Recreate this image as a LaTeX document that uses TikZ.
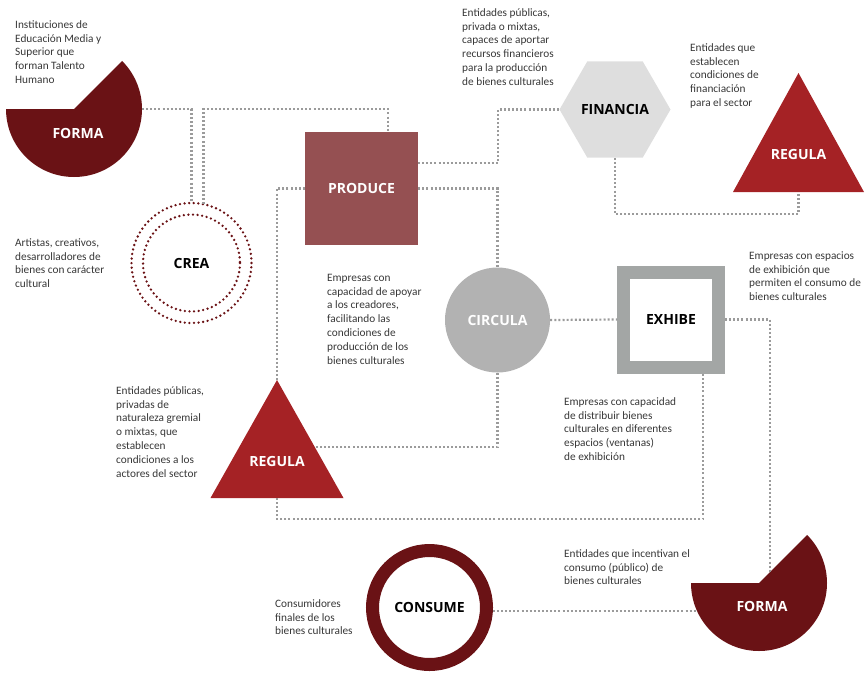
\documentclass[tikz,border=0pt]{standalone}
\usepackage{fontspec}
\setmainfont{Carlito}
\newfontfamily\labfont{Open Sans}
\usetikzlibrary{shapes.geometric}

\definecolor{wine}{RGB}{106,18,21}
\definecolor{prodred}{RGB}{149,80,82}
\definecolor{regred}{RGB}{165,34,37}
\definecolor{circgray}{RGB}{178,178,178}
\definecolor{exgray}{RGB}{163,166,165}
\definecolor{fingray}{RGB}{222,222,222}
\definecolor{linkgray}{RGB}{155,155,155}
\definecolor{notegray}{RGB}{55,55,55}

% strut fixing the height of the first line of every note
\newcommand\notestrut{\rule{0pt}{9pt}}

\begin{document}
\begin{tikzpicture}[x=1pt,y=-1pt,
  link/.style={draw=linkgray, line width=2.2pt, dash pattern=on 2pt off 2.1pt},
  lab/.style={font=\labfont\bfseries\fontsize{14}{16}\selectfont, inner sep=0pt},
  dots/.style={draw=wine, line width=2.6pt, line cap=round, dash pattern=on 0pt off 4.6pt},
  note/.style={anchor=north west, align=left, inner sep=0pt, text=notegray,
               font=\fontsize{11.3}{13.8}\selectfont}]
\useasboundingbox (0,0) rectangle (865,673);

% ---------- shapes ----------
% FORMA (upper left): circle sector
\coordinate (f1c) at (74,109);
\fill[wine] (f1c) -- ++(-68,0) arc[start angle=180, end angle=-45, radius=68] -- cycle;
\node[lab, text=white] (forma1) at (78,133) {FORMA};

% CREA: two dotted rings
\node[circle, dots, minimum size=120pt, lab] (crea) at (191.5,263) {CREA};
\draw[dots] (crea.center) circle[radius=48.5];

% PRODUCE
\node[fill=prodred, minimum size=113pt, lab, text=white] (produce) at (361.5,188.5) {PRODUCE};

% FINANCIA hexagon (flat top and bottom)
\node[regular polygon, regular polygon sides=6,
      minimum size=111pt, fill=fingray, lab] (financia) at (615,109.5) {FINANCIA};

% REGULA (upper right)
\coordinate (reg2Top) at (798.5,73);
\fill[regred] (reg2Top) -- (864,192) -- (733,192) -- cycle;
\node[lab, text=white] (regula2) at (798.5,154) {REGULA};
\coordinate (reg2Bot) at (798.5,192);

% CIRCULA
\node[circle, fill=circgray, minimum size=105pt, lab, text=white] (circula) at (497.5,320) {CIRCULA};

% EXHIBE
\node[draw=exgray, line width=13pt, fill=white, minimum size=95pt, lab] (exhibe) at (671,319.5) {EXHIBE};

% REGULA (left)
\coordinate (reg1Top) at (277,380);
\coordinate (reg1Bot) at (277,498);
\fill[regred] (reg1Top) -- (343.5,498) -- (210.5,498) -- cycle;
\node[lab, text=white] (regula1) at (277,461) {REGULA};

% CONSUME ring
\node[circle, draw=wine, line width=13pt, minimum size=114pt, fill=white, lab] (consume) at (429.5,607.5) {CONSUME};

% FORMA (lower right): circle sector
\coordinate (f2c) at (759,583);
\fill[wine] (f2c) -- ++(-68,0) arc[start angle=180, end angle=-45, radius=68] -- cycle;
\node[lab, text=white] (forma2) at (762,606) {FORMA};

% ---------- connector end points ----------
\coordinate (f1r) at (142,109);
\coordinate (creaTop2) at (203.5,204);
\coordinate (prodTop) at (388,132);
\coordinate (prodR1) at (418,163);
\coordinate (f2edge) at (770,572);
\coordinate (exB) at (703,374);
\coordinate (reg1R) at (314,447);
\coordinate (consR) at (492.8,611);
\coordinate (f2arc) at (697,611);

% ---------- connectors ----------
\draw[link] (f1r) -| (crea.north);
\draw[link] (creaTop2) -- ++(0,-95) -| (prodTop);
\draw[link] (prodR1) -- ++(80,0) |- (financia.west);
\draw[link] (produce.east) -| (circula.north);
\draw[link] (produce.west) -| (reg1Top);
\draw[link] (financia.south) -- ++(0,56.5) -| (reg2Bot);
\draw[link] (circula.east) -- (exhibe.west);
\draw[link] (exhibe.east) -| (f2edge);
\draw[link] (exB) -- ++(0,145) -| (reg1Bot);
\draw[link] (circula.south) |- (reg1R);
\draw[link] (consR) -- (f2arc);

% ---------- notes ----------
\node[note] (n1) at (15,19) {\notestrut Instituciones de\\Educación Media y\\Superior que\\forman Talento\\Humano};
\node[note] (n2) at (15,237) {\notestrut Artistas, creativos,\\desarrolladores de\\bienes con carácter\\cultural};
\node[note] (n3) at (327,272) {\notestrut Empresas con\\capacidad de apoyar\\a los creadores,\\facilitando las\\condiciones de\\producción de los\\bienes culturales};
\node[note] (n4) at (462,7) {\notestrut Entidades públicas,\\privada o mixtas,\\capaces de aportar\\recursos financieros\\para la producción\\de bienes culturales};
\node[note] (n5) at (690,42) {\notestrut Entidades que\\establecen\\condiciones de\\financiación\\para el sector};
\node[note] (n6) at (749,250) {\notestrut Empresas con espacios\\de exhibición que\\permiten el consumo de\\bienes culturales};
\node[note] (n7) at (564,396) {\notestrut Empresas con capacidad\\de distribuir bienes\\culturales en diferentes\\espacios (ventanas)\\de exhibición};
\node[note] (n8) at (116,385) {\notestrut Entidades públicas,\\privadas de\\naturaleza gremial\\o mixtas, que\\establecen\\condiciones a los\\actores del sector};
\node[note] (n9) at (564,548) {\notestrut Entidades que incentivan el\\consumo (público) de\\bienes culturales};
\node[note] (n10) at (275,598) {\notestrut Consumidores\\finales de los\\bienes culturales};
\end{tikzpicture}
\end{document}
